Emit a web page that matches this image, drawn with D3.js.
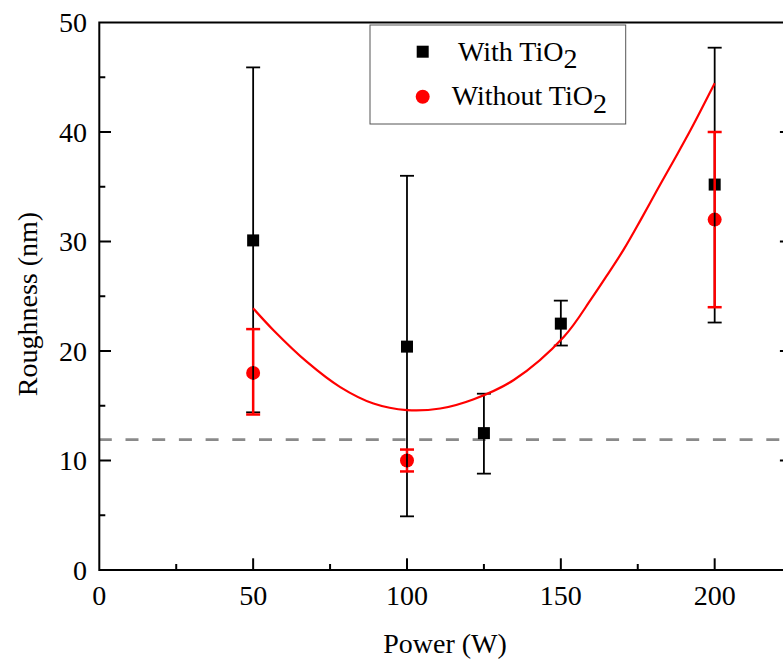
<!DOCTYPE html>
<html>
<head>
<meta charset="utf-8">
<script src="https://cdn.jsdelivr.net/npm/d3@7"></script>
<style>
  body { margin: 0; background: #fff; }
  svg { display: block; }
</style>
</head>
<body>
<div id="chart"></div>
<script>
// data
var power = [50, 100, 125, 150, 200];
var withTiO2 = [30.1, 20.4, 12.5, 22.5, 35.2];
var withTiO2Low = [14.4, 4.9, 8.8, 20.5, 22.6];
var withTiO2High = [45.9, 36.0, 16.1, 24.6, 47.7];

var powerNo = [50, 100, 200];
var withoutTiO2 = [18.0, 10.0, 32.0];
var withoutTiO2Low = [14.2, 9.0, 24.0];
var withoutTiO2High = [22.0, 11.0, 40.0];

// fitted curve
var fitX = [50, 56.6, 67.5, 78.3, 89.1, 100, 110.8, 121.7, 134.7, 151, 160, 165, 170.5, 176, 181.3, 186.7, 192.2, 200];
var fitY = [23.9, 21.9, 19.0, 16.7, 15.2, 14.6, 14.75, 15.6, 17.35, 21.3, 24.8, 26.9, 29.3, 32.0, 34.7, 37.4, 40.2, 44.45];

var baseline = 11.9;
var xTicks = [0, 50, 100, 150, 200];
var xMinor = [25, 75, 125, 175];
var yTicks = [0, 10, 20, 30, 40, 50];
var yMinor = [5, 15, 25, 35, 45];

var FONT = "'Liberation Serif', 'DejaVu Serif', 'Times New Roman', Times, serif";
var FS = 28;

var W = 783, H = 659;
var svg = d3.select("#chart").append("svg")
    .attr("width", W).attr("height", H)
    .style("font-family", FONT);

var x = d3.scaleLinear().domain([0, 225]).range([99.3, 791.6]);
var y = d3.scaleLinear().domain([0, 50]).range([570, 22.5]);

// dashed reference line
svg.append("line")
    .attr("x1", x(0)).attr("x2", W)
    .attr("y1", y(baseline)).attr("y2", y(baseline))
    .attr("stroke", "#8a8a8a").attr("stroke-width", 2.7)
    .attr("stroke-dasharray", "13,13.7")
    .attr("stroke-dashoffset", 0.5);

// black squares
svg.selectAll("rect.with")
    .data(power)
    .enter().append("rect")
    .attr("class", "with")
    .attr("x", function(d){ return x(d) - 6; })
    .attr("y", function(d, i){ return y(withTiO2[i]) - 6; })
    .attr("width", 12).attr("height", 12)
    .attr("fill", "#000");

// red circles
svg.selectAll("circle.without")
    .data(powerNo)
    .enter().append("circle")
    .attr("class", "without")
    .attr("cx", function(d){ return x(d); })
    .attr("cy", function(d, i){ return y(withoutTiO2[i]); })
    .attr("r", 7)
    .attr("fill", "#ff0000");

// black error bars
var eb = svg.append("g").attr("stroke", "#000").attr("stroke-width", 1.8);
power.forEach(function(p, i){
    eb.append("line").attr("x1", x(p)).attr("x2", x(p))
        .attr("y1", y(withTiO2Low[i])).attr("y2", y(withTiO2High[i]));
    [withTiO2Low[i], withTiO2High[i]].forEach(function(v){
        eb.append("line").attr("x1", x(p) - 7).attr("x2", x(p) + 7)
            .attr("y1", y(v)).attr("y2", y(v));
    });
});

// red error bars (start at the circle edge)
var rb = svg.append("g").attr("stroke", "#ff0000").attr("stroke-width", 2.5);
powerNo.forEach(function(p, i){
    rb.append("line").attr("x1", x(p)).attr("x2", x(p))
        .attr("y1", y(withoutTiO2[i]) - 7).attr("y2", y(withoutTiO2High[i]));
    rb.append("line").attr("x1", x(p)).attr("x2", x(p))
        .attr("y1", y(withoutTiO2[i]) + 7).attr("y2", y(withoutTiO2Low[i]));
    [withoutTiO2Low[i], withoutTiO2High[i]].forEach(function(v){
        rb.append("line").attr("x1", x(p) - 7).attr("x2", x(p) + 7)
            .attr("y1", y(v)).attr("y2", y(v));
    });
});

// fit curve
var line = d3.line()
    .x(function(d){ return x(d[0]); })
    .y(function(d){ return y(d[1]); })
    .curve(d3.curveCatmullRom.alpha(0.5));
svg.append("path")
    .datum(d3.zip(fitX, fitY))
    .attr("d", line)
    .attr("fill", "none")
    .attr("stroke", "#ff0000")
    .attr("stroke-width", 2.2);

// frame
var frame = svg.append("g").attr("stroke", "#000").attr("stroke-width", 2).attr("fill", "none");
frame.append("rect")
    .attr("x", x(0)).attr("y", y(50))
    .attr("width", x(225) - x(0)).attr("height", y(0) - y(50));

// x ticks
xTicks.forEach(function(t){
    if (t > 0) frame.append("line").attr("x1", x(t)).attr("x2", x(t))
        .attr("y1", y(0)).attr("y2", y(0) - 11.7);
});
xMinor.forEach(function(t){
    frame.append("line").attr("x1", x(t)).attr("x2", x(t))
        .attr("y1", y(0)).attr("y2", y(0) - 6);
});
// y ticks, left and right
yTicks.forEach(function(t){
    if (t > 0 && t < 50) {
        frame.append("line").attr("x1", x(0)).attr("x2", x(0) + 11.7)
            .attr("y1", y(t)).attr("y2", y(t));
        frame.append("line").attr("x1", x(225)).attr("x2", x(225) - 11.7)
            .attr("y1", y(t)).attr("y2", y(t));
    }
});
yMinor.forEach(function(t){
    frame.append("line").attr("x1", x(0)).attr("x2", x(0) + 6)
        .attr("y1", y(t)).attr("y2", y(t));
    frame.append("line").attr("x1", x(225)).attr("x2", x(225) - 6)
        .attr("y1", y(t)).attr("y2", y(t));
});

// tick labels
svg.selectAll("text.xl")
    .data(xTicks)
    .enter().append("text")
    .attr("class", "xl")
    .attr("x", function(d){ return x(d); })
    .attr("y", 605)
    .attr("text-anchor", "middle")
    .attr("font-family", FONT)
    .attr("font-size", FS)
    .text(function(d){ return d; });

svg.selectAll("text.yl")
    .data(yTicks)
    .enter().append("text")
    .attr("class", "yl")
    .attr("x", 87)
    .attr("y", function(d){ return y(d) + 9.5; })
    .attr("text-anchor", "end")
    .attr("font-family", FONT)
    .attr("font-size", FS)
    .text(function(d){ return d; });

// axis titles
svg.append("text")
    .attr("x", 445).attr("y", 653)
    .attr("text-anchor", "middle")
    .attr("font-family", FONT)
    .attr("font-size", FS)
    .text("Power (W)");
svg.append("text")
    .attr("transform", "translate(37,304) rotate(-90)")
    .attr("text-anchor", "middle")
    .attr("font-family", FONT)
    .attr("font-size", FS)
    .text("Roughness (nm)");

// legend
var legend = svg.append("g");
legend.append("rect")
    .attr("x", 370).attr("y", 25)
    .attr("width", 255.7).attr("height", 99)
    .attr("fill", "#fff").attr("stroke", "#555").attr("stroke-width", 1);
legend.append("rect")
    .attr("x", 422.7 - 6).attr("y", 51.7 - 6)
    .attr("width", 12).attr("height", 12).attr("fill", "#000");
legend.append("circle")
    .attr("cx", 422.7).attr("cy", 96.7).attr("r", 7).attr("fill", "#ff0000");

var t1 = legend.append("text").attr("x", 458).attr("y", 60.7)
    .attr("font-family", FONT).attr("font-size", FS);
t1.append("tspan").text("With TiO");
t1.append("tspan").attr("dy", 7.6).text("2");
var t2 = legend.append("text").attr("x", 451.7).attr("y", 105)
    .attr("font-family", FONT).attr("font-size", FS);
t2.append("tspan").text("Without TiO");
t2.append("tspan").attr("dy", 8.3).text("2");
</script>
</body>
</html>
